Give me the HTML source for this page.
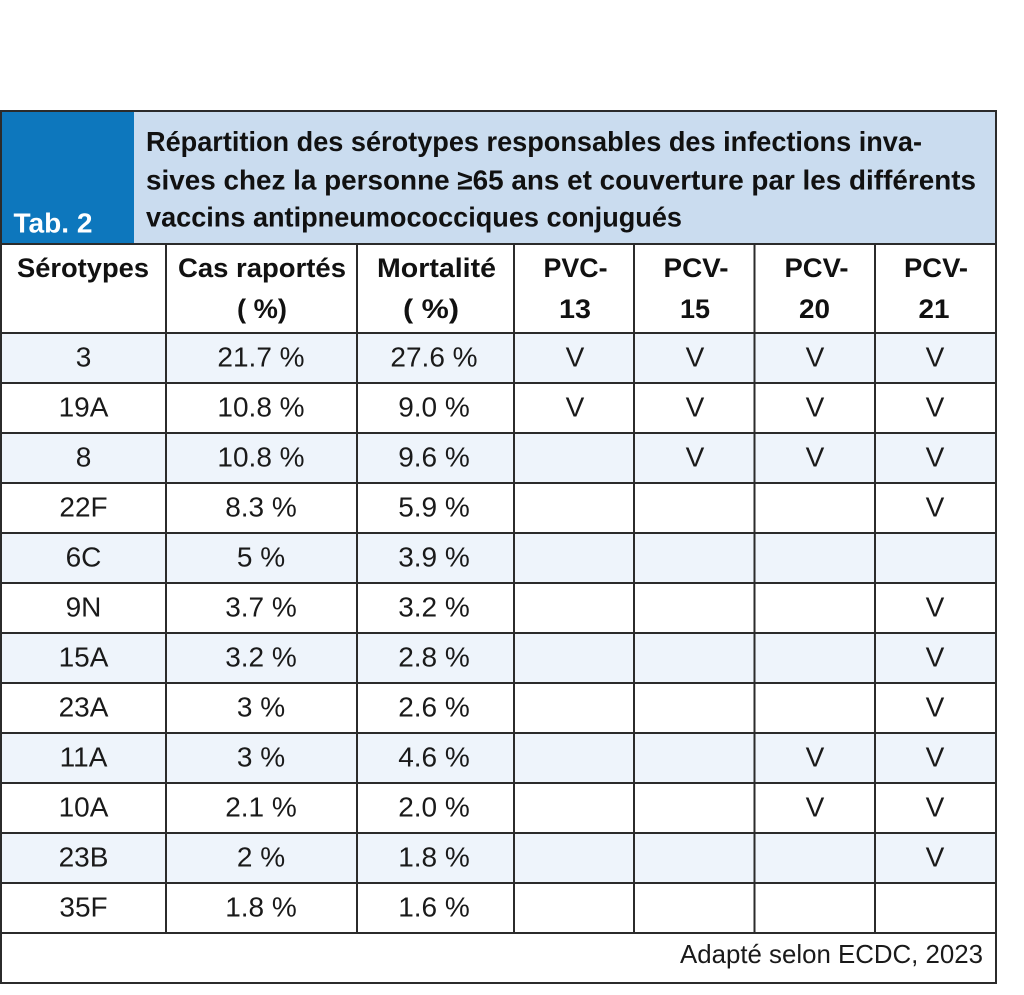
<!DOCTYPE html>
<html>
<head>
<meta charset="utf-8">
<style>
  html, body { margin: 0; padding: 0; background: #ffffff; }
  svg { display: block; }
  .hd { font-family: "Liberation Sans Narrow", "Liberation Sans", sans-serif; font-weight: bold; fill: #111111; }
  .bd { font-family: "Liberation Sans", sans-serif; font-size: 28px; fill: #1a1a1a; }
</style>
</head>
<body>
<svg width="1024" height="995" viewBox="0 0 1024 995" xmlns="http://www.w3.org/2000/svg">
  <rect x="0" y="0" width="1024" height="995" fill="#ffffff"/>
  <!-- header band -->
  <rect x="0" y="110" width="134" height="134" fill="#0d77bd"/>
  <rect x="134" y="110" width="862" height="134" fill="#cadcef"/>
  <!-- striped rows -->
  <g fill="#eef4fb">
    <rect x="0" y="333" width="996" height="50"/>
    <rect x="0" y="433" width="996" height="50"/>
    <rect x="0" y="533" width="996" height="50"/>
    <rect x="0" y="633" width="996" height="50"/>
    <rect x="0" y="733" width="996" height="50"/>
    <rect x="0" y="833" width="996" height="50"/>
  </g>

  <!-- title -->
  <text class="hd" x="13.5" y="232.5" font-size="28" style="fill:#ffffff" textLength="79" lengthAdjust="spacingAndGlyphs">Tab. 2</text>
  <text class="hd" x="146" y="151" font-size="28" textLength="776" lengthAdjust="spacingAndGlyphs">Répartition des sérotypes responsables des infections inva-</text>
  <text class="hd" x="146" y="189.5" font-size="28" textLength="830" lengthAdjust="spacingAndGlyphs">sives chez la personne ≥65 ans et couverture par les différents</text>
  <text class="hd" x="146" y="226.5" font-size="28" textLength="536" lengthAdjust="spacingAndGlyphs">vaccins antipneumococciques conjugués</text>

  <!-- column headers -->
  <g class="hd" font-size="27">
    <text x="17" y="277" textLength="132" lengthAdjust="spacingAndGlyphs">Sérotypes</text>
    <text x="178" y="277" textLength="168" lengthAdjust="spacingAndGlyphs">Cas raportés</text>
    <text x="237" y="318" textLength="50" lengthAdjust="spacingAndGlyphs">( %)</text>
    <text x="377" y="277" textLength="119" lengthAdjust="spacingAndGlyphs">Mortalité</text>
    <text x="403" y="318" textLength="56" lengthAdjust="spacingAndGlyphs">( %)</text>
    <text x="543.5" y="277" textLength="64" lengthAdjust="spacingAndGlyphs">PVC-</text>
    <text x="559" y="318" textLength="32" lengthAdjust="spacingAndGlyphs">13</text>
    <text x="663.5" y="277" textLength="65" lengthAdjust="spacingAndGlyphs">PCV-</text>
    <text x="680" y="318" textLength="30" lengthAdjust="spacingAndGlyphs">15</text>
    <text x="784.5" y="277" textLength="64" lengthAdjust="spacingAndGlyphs">PCV-</text>
    <text x="799" y="318" textLength="31" lengthAdjust="spacingAndGlyphs">20</text>
    <text x="904" y="277" textLength="64" lengthAdjust="spacingAndGlyphs">PCV-</text>
    <text x="918.5" y="318" textLength="31" lengthAdjust="spacingAndGlyphs">21</text>
  </g>

  <!-- body -->
  <g class="bd" text-anchor="middle">
    <text x="83.5" y="366.5">3</text><text x="261" y="366.5">21.7 %</text><text x="434" y="366.5">27.6 %</text>
    <text x="575" y="366.5">V</text><text x="695" y="366.5">V</text><text x="815" y="366.5">V</text><text x="935" y="366.5">V</text>
    <text x="83.5" y="416.5">19A</text><text x="261" y="416.5">10.8 %</text><text x="434" y="416.5">9.0 %</text>
    <text x="575" y="416.5">V</text><text x="695" y="416.5">V</text><text x="815" y="416.5">V</text><text x="935" y="416.5">V</text>
    <text x="83.5" y="466.5">8</text><text x="261" y="466.5">10.8 %</text><text x="434" y="466.5">9.6 %</text>
    <text x="695" y="466.5">V</text><text x="815" y="466.5">V</text><text x="935" y="466.5">V</text>
    <text x="83.5" y="516.5">22F</text><text x="261" y="516.5">8.3 %</text><text x="434" y="516.5">5.9 %</text>
    <text x="935" y="516.5">V</text>
    <text x="83.5" y="566.5">6C</text><text x="261" y="566.5">5 %</text><text x="434" y="566.5">3.9 %</text>
    <text x="83.5" y="616.5">9N</text><text x="261" y="616.5">3.7 %</text><text x="434" y="616.5">3.2 %</text>
    <text x="935" y="616.5">V</text>
    <text x="83.5" y="666.5">15A</text><text x="261" y="666.5">3.2 %</text><text x="434" y="666.5">2.8 %</text>
    <text x="935" y="666.5">V</text>
    <text x="83.5" y="716.5">23A</text><text x="261" y="716.5">3 %</text><text x="434" y="716.5">2.6 %</text>
    <text x="935" y="716.5">V</text>
    <text x="83.5" y="766.5">11A</text><text x="261" y="766.5">3 %</text><text x="434" y="766.5">4.6 %</text>
    <text x="815" y="766.5">V</text><text x="935" y="766.5">V</text>
    <text x="83.5" y="816.5">10A</text><text x="261" y="816.5">2.1 %</text><text x="434" y="816.5">2.0 %</text>
    <text x="815" y="816.5">V</text><text x="935" y="816.5">V</text>
    <text x="83.5" y="866.5">23B</text><text x="261" y="866.5">2 %</text><text x="434" y="866.5">1.8 %</text>
    <text x="935" y="866.5">V</text>
    <text x="83.5" y="916.5">35F</text><text x="261" y="916.5">1.8 %</text><text x="434" y="916.5">1.6 %</text>
  </g>

  <!-- footer -->
  <text class="bd" x="680" y="963" style="font-size:26px" textLength="303" lengthAdjust="spacingAndGlyphs">Adapté selon ECDC, 2023</text>

  <!-- grid lines -->
  <g stroke="#2b2b2b" stroke-width="2" fill="none">
    <line x1="0" y1="244" x2="996" y2="244"/>
    <line x1="0" y1="333" x2="996" y2="333"/>
    <line x1="0" y1="383" x2="996" y2="383"/>
    <line x1="0" y1="433" x2="996" y2="433"/>
    <line x1="0" y1="483" x2="996" y2="483"/>
    <line x1="0" y1="533" x2="996" y2="533"/>
    <line x1="0" y1="583" x2="996" y2="583"/>
    <line x1="0" y1="633" x2="996" y2="633"/>
    <line x1="0" y1="683" x2="996" y2="683"/>
    <line x1="0" y1="733" x2="996" y2="733"/>
    <line x1="0" y1="783" x2="996" y2="783"/>
    <line x1="0" y1="833" x2="996" y2="833"/>
    <line x1="0" y1="883" x2="996" y2="883"/>
    <line x1="0" y1="933" x2="996" y2="933"/>
    <line x1="166" y1="244" x2="166" y2="933"/>
    <line x1="357" y1="244" x2="357" y2="933"/>
    <line x1="514" y1="244" x2="514" y2="933"/>
    <line x1="634" y1="244" x2="634" y2="933"/>
    <line x1="754.5" y1="244" x2="754.5" y2="933"/>
    <line x1="875" y1="244" x2="875" y2="933"/>
    <rect x="1" y="111" width="995" height="872"/>
  </g>
</svg>
</body>
</html>
